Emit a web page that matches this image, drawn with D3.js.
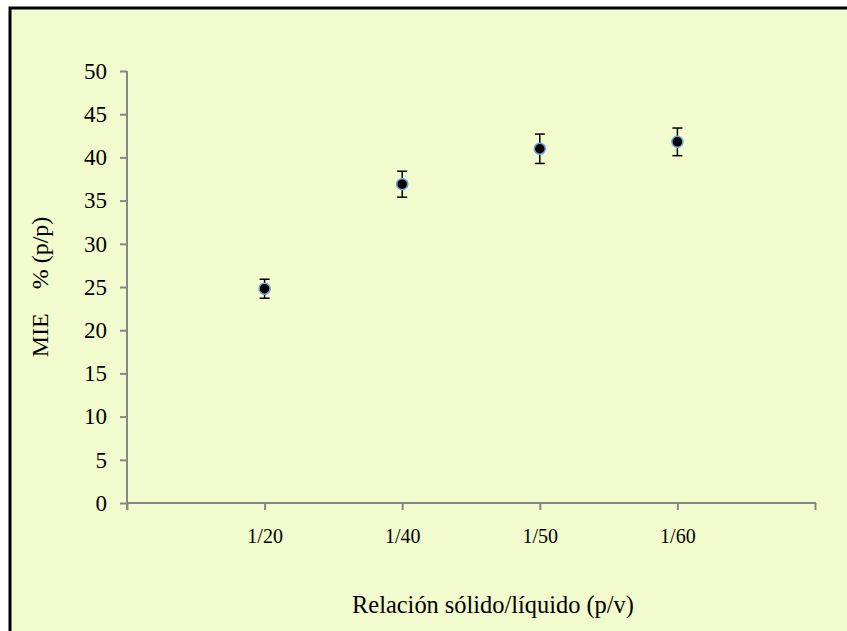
<!DOCTYPE html>
<html>
<head>
<meta charset="utf-8">
<script src="https://cdn.jsdelivr.net/npm/d3@7"></script>
<style>
  body { margin: 0; background: #fff; }
  svg { display: block; }
  text { font-family: 'Liberation Serif', 'Times New Roman', serif; fill: #000; }
</style>
</head>
<body>
<svg id="chart" width="847" height="631"></svg>
<script>
const categories = ['1/20', '1/40', '1/50', '1/60']
const values = [24.8, 36.9, 41.0, 41.8]
const errors = [1.1, 1.5, 1.7, 1.6]
const yTicks = [0, 5, 10, 15, 20, 25, 30, 35, 40, 45, 50]

const svg = d3.select('#chart')
const axisColor = '#868686'

// chart area background + frame (runs past right / bottom edge)
svg.append('rect')
  .attr('x', 10).attr('y', 8)
  .attr('width', 860).attr('height', 640)
  .attr('fill', '#f1fbcd')
  .attr('stroke', '#000')
  .attr('stroke-width', 3)

const plotLeft = 127, plotRight = 815, plotTop = 71, plotBottom = 503

const x = d3.scaleLinear().domain([0, categories.length + 1]).range([plotLeft, plotRight])
const y = d3.scaleLinear().domain([0, 50]).range([plotBottom, plotTop])

// y axis
const yAxis = svg.append('g')
  .attr('transform', 'translate(' + plotLeft + ',0)')
  .call(d3.axisLeft(y).tickValues(yTicks).tickSize(7).tickPadding(13))
yAxis.select('.domain').remove()
yAxis.selectAll('.tick line').attr('stroke', axisColor).attr('stroke-width', 2)
yAxis.selectAll('.tick text').style('font-size', '23px')
yAxis.append('line')
  .attr('x1', 0).attr('x2', 0)
  .attr('y1', plotTop).attr('y2', plotBottom + 7)
  .attr('stroke', axisColor).attr('stroke-width', 2)

// x axis
const xAxis = svg.append('g')
  .attr('transform', 'translate(0,' + plotBottom + ')')
  .call(d3.axisBottom(x)
    .tickValues(d3.range(0, categories.length + 2))
    .tickSize(7)
    .tickPadding(19)
    .tickFormat(i => categories[i - 1] || ''))
xAxis.select('.domain').remove()
xAxis.selectAll('.tick line').attr('stroke', axisColor).attr('stroke-width', 2)
xAxis.selectAll('.tick text').style('font-size', '20px')
xAxis.append('line')
  .attr('x1', plotLeft).attr('x2', plotRight + 1)
  .attr('y1', 0).attr('y2', 0)
  .attr('stroke', axisColor).attr('stroke-width', 2)

// error bars
const pts = svg.append('g')
const eb = pts.selectAll('.err').data(values).enter().append('g').attr('class', 'err')
eb.append('line')
  .attr('x1', (d, i) => x(i + 1)).attr('x2', (d, i) => x(i + 1))
  .attr('y1', (d, i) => y(d + errors[i])).attr('y2', (d, i) => y(d - errors[i]))
  .attr('stroke', '#000').attr('stroke-width', 1.5)
eb.selectAll('.cap').data((d, i) => [[i, d + errors[i]], [i, d - errors[i]]])
  .enter().append('line')
  .attr('x1', p => x(p[0] + 1) - 5).attr('x2', p => x(p[0] + 1) + 5)
  .attr('y1', p => y(p[1])).attr('y2', p => y(p[1]))
  .attr('stroke', '#000').attr('stroke-width', 1.5)

// markers
pts.selectAll('circle').data(values).enter().append('circle')
  .attr('cx', (d, i) => x(i + 1))
  .attr('cy', d => y(d))
  .attr('r', 5.5)
  .attr('fill', '#000')
  .attr('stroke', '#6fa0d8')
  .attr('stroke-width', 1.5)

// axis titles
svg.append('text')
  .attr('x', 493).attr('y', 613)
  .attr('text-anchor', 'middle')
  .style('font-size', '24.4px')
  .text('Relación sólido/líquido (p/v)')

svg.append('text')
  .attr('transform', 'translate(48,' + 287 + ') rotate(-90)')
  .attr('text-anchor', 'middle')
  .style('font-size', '24px')
  .style('white-space', 'pre')
  .text('MIE    % (p/p)')
</script>
</body>
</html>
